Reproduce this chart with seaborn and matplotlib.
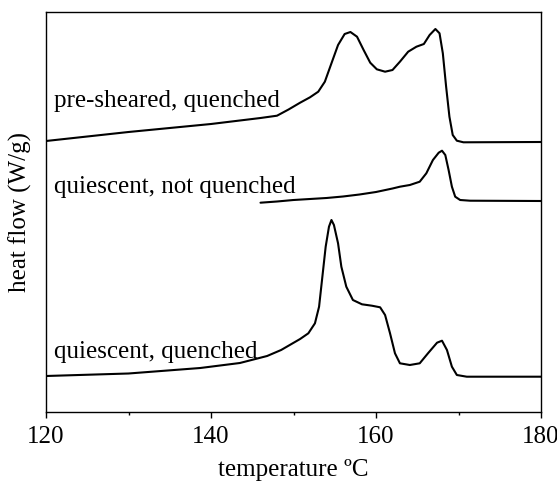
import numpy as np
import pandas as pd
import matplotlib
matplotlib.use("Agg")
import matplotlib.pyplot as plt
import seaborn as sns
from matplotlib.ticker import MultipleLocator

# --- data (temperature in °C, heat flow in arbitrary units, endotherm up) ---
temp_sheared = [120, 130, 140, 146, 148, 149.4, 150.8, 152.0, 153.0, 153.8, 154.6, 155.4,
                156.2, 156.9, 157.7, 158.5, 159.3, 160.1, 161.1, 162.0, 162.9, 163.9,
                164.9, 165.8, 166.5, 167.2, 167.7, 168.1, 168.5, 168.9, 169.3, 169.8,
                170.6, 180]
flow_sheared = [271, 280, 288, 294, 296.3, 302.5, 309.3, 314.7, 320.3, 330.3, 348.7, 367,
                378, 380, 375.3, 362, 349.3, 342.7, 340.3, 342, 350.3, 360.3,
                365.3, 368, 377, 383, 378.7, 358.7, 325.3, 295.3, 277, 271.3,
                269.7, 270]

temp_quiet_nq = [146.0, 148, 150, 152, 154, 156, 158, 160, 162, 162.9, 164.1, 165.3,
                 166.1, 166.9, 167.6, 168.0, 168.4, 168.8, 169.2, 169.6, 170.2, 171.4, 180]
flow_quiet_nq = [209.3, 210.5, 212, 213, 214, 215.5, 217.5, 220, 223.5, 225.3, 227, 230.3,
                 238.7, 252, 259.3, 261.3, 257, 242, 225.3, 215.3, 212, 211.3, 211]

temp_quiet_q = [120, 130, 138.7, 143.5, 146.8, 148.5, 150.8, 151.8, 152.6, 153.1, 153.5,
                153.9, 154.3, 154.6, 154.9, 155.4, 155.8, 156.4, 157.2, 158.3, 159.5,
                160.5, 161.1, 161.7, 162.3, 162.9, 164.1, 165.3, 166.3, 167.4, 168.0,
                168.6, 169.2, 169.8, 171.0, 180]
flow_quiet_q = [36, 38.5, 44, 49, 56, 62, 73, 78.7, 88.7, 105.3, 135.3,
                165.3, 185.3, 192, 187, 168.7, 145.3, 125.3, 112, 107.7, 106.3,
                104.7, 97, 78.7, 58.7, 48.7, 47, 48.7, 58.7, 69.3, 71.3,
                62, 45.3, 37, 35.3, 35.3]

labels = ["pre-sheared, quenched", "quiescent, not quenched", "quiescent, quenched"]

df = pd.concat([
    pd.DataFrame({"T": temp_sheared, "q": flow_sheared, "sample": labels[0]}),
    pd.DataFrame({"T": temp_quiet_nq, "q": flow_quiet_nq, "sample": labels[1]}),
    pd.DataFrame({"T": temp_quiet_q, "q": flow_quiet_q, "sample": labels[2]}),
])

sns.set_theme(style="white")
plt.rcParams["font.family"] = ["Liberation Serif", "DejaVu Serif"]

fig = plt.figure(figsize=(5.57, 4.90), dpi=100)
ax = fig.add_axes([46/557, 78/490, 495/557, 400/490])

sns.lineplot(data=df, x="T", y="q", units="sample", estimator=None, sort=False,
             color="black", linewidth=1.5, ax=ax, legend=False)
for ln in ax.lines:
    ln.set_solid_joinstyle("round")
    ln.set_solid_capstyle("round")

ax.set_xlim(120, 180)
ax.set_ylim(0, 400)
ax.xaxis.set_major_locator(MultipleLocator(20))
ax.xaxis.set_minor_locator(MultipleLocator(10))
ax.set_yticks([])
ax.tick_params(axis="x", which="major", direction="out", length=4, width=1,
               labelsize=18, pad=6, bottom=True, colors="black")
ax.tick_params(axis="x", which="minor", direction="out", length=2.5, width=1,
               bottom=True, colors="black")
for s in ax.spines.values():
    s.set_color("black")
    s.set_linewidth(1.0)

ax.set_xlabel("temperature ºC", fontsize=18, color="black", labelpad=8)
ax.set_ylabel("heat flow (W/g)", fontsize=18, color="black", labelpad=10)

ax.text(121.0, 311, labels[0], fontsize=18, color="black", va="center", ha="left")
ax.text(121.0, 225, labels[1], fontsize=18, color="black", va="center", ha="left")
ax.text(121.0, 60, labels[2], fontsize=18, color="black", va="center", ha="left")

fig.savefig("out.png", dpi=100)
